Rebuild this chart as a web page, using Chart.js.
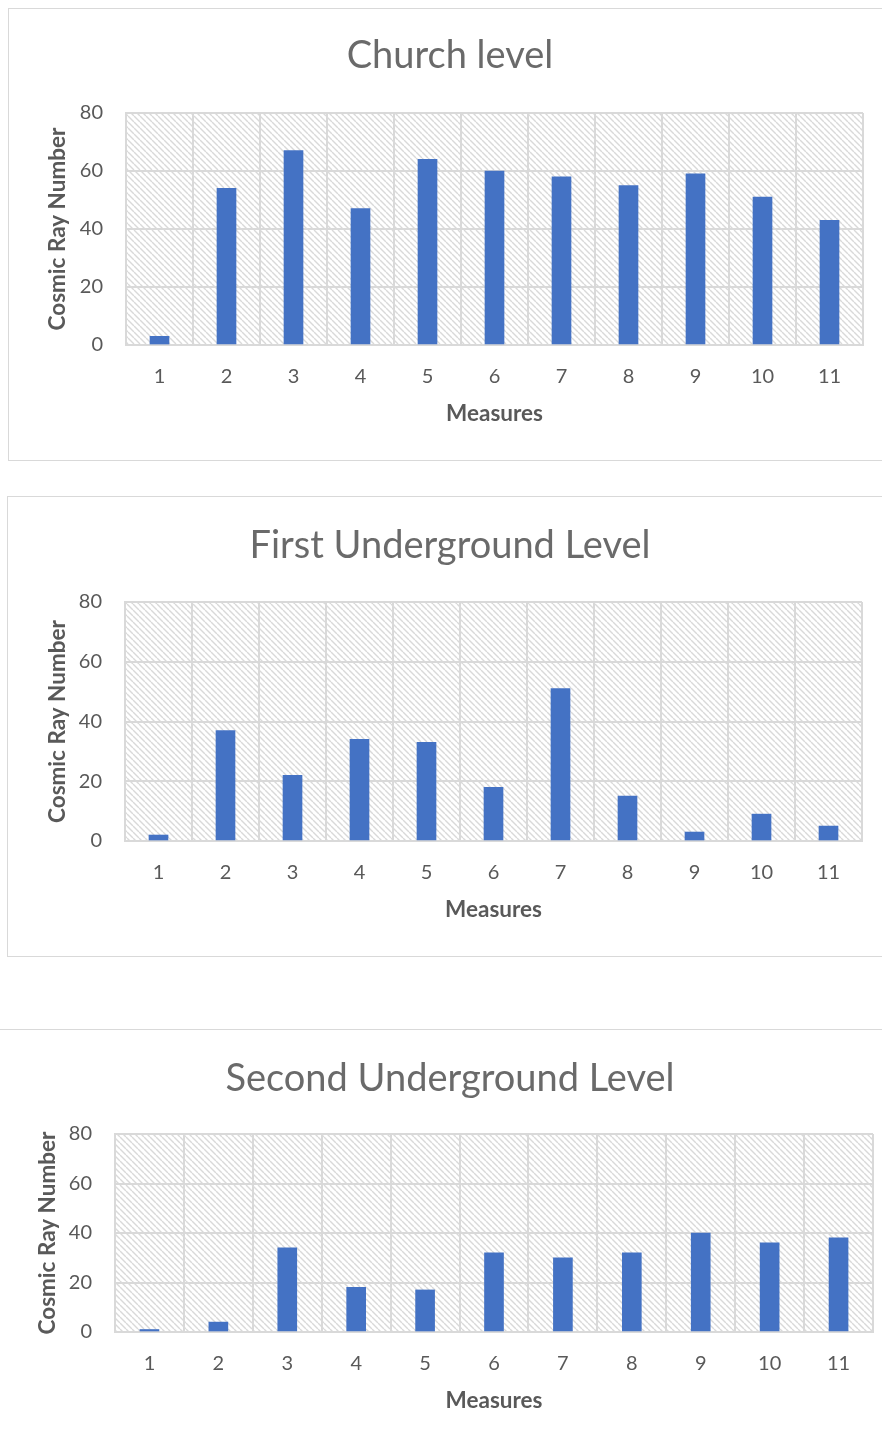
<!DOCTYPE html>
<html>
<head>
<meta charset="utf-8">
<script src="https://cdn.jsdelivr.net/npm/chart.js@4.4.0/dist/chart.umd.min.js"></script>
<style>
  html, body { margin: 0; padding: 0; background: #fff; width: 882px; height: 1441px; overflow: hidden; }
  .box { position: absolute; border: 1.5px solid #d9d9d9; box-sizing: border-box; }
  canvas { position: absolute; }
</style>
</head>
<body>
<div class="box" style="left:8px;top:8px;width:920px;height:453px;"></div>
<div class="box" style="left:7px;top:496px;width:920px;height:461px;"></div>
<div class="box" style="left:-10px;top:1029px;width:920px;height:500px;"></div>
<canvas id="c1" width="884" height="452" style="left:8px;top:8px;"></canvas>
<canvas id="c2" width="886" height="460" style="left:7px;top:496px;"></canvas>
<canvas id="c3" width="900" height="412" style="left:0px;top:1029px;"></canvas>
<script>
// ---- data ----
const categories = ['1', '2', '3', '4', '5', '6', '7', '8', '9', '10', '11'];
const churchLevel = [3, 54, 67, 47, 64, 60, 58, 55, 59, 51, 43];
const firstUnderground = [2, 37, 22, 34, 33, 18, 51, 15, 3, 9, 5];
const secondUnderground = [1, 4, 34, 18, 17, 32, 30, 32, 40, 36, 38];
const yTickValues = [0, 20, 40, 60, 80];
const chartTitles = ['Church level', 'First Underground Level', 'Second Underground Level'];
const xAxisTitle = 'Measures';
const yAxisTitle = 'Cosmic Ray Number';

// ---- styles ----
const FONT = 'Lato, "Open Sans", sans-serif';
const TEXT = '#595959';
const TITLE_COLOR = '#6a6a6a';
const GRID = '#d9d9d9';
const BAR = '#4472C4';
const TITLE_SIZE = 38, TICK_SIZE = 20, AXIS_SIZE = 22.5, LH = 1.2;

function makePattern() {
  const s = 6;
  const c = document.createElement('canvas');
  c.width = s; c.height = s;
  const g = c.getContext('2d');
  g.fillStyle = '#ffffff';
  g.fillRect(0, 0, s, s);
  g.strokeStyle = '#d9d9d9';
  g.lineWidth = 1.4;
  for (const k of [-s, 0, s]) {
    g.beginPath();
    g.moveTo(k, 0);
    g.lineTo(k + s, s);
    g.stroke();
  }
  return g.createPattern(c, 'repeat');
}

const hatchPlugin = {
  id: 'hatch',
  beforeDraw(chart) {
    const a = chart.chartArea;
    const ctx = chart.ctx;
    ctx.save();
    ctx.fillStyle = makePattern();
    ctx.fillRect(a.left, a.top, a.right - a.left, a.bottom - a.top);
    ctx.restore();
  }
};

function makeChart(id, title, values, L) {
  const lhTitle = TITLE_SIZE * LH, lhTick = TICK_SIZE * LH, lhAxis = AXIS_SIZE * LH;
  const side = L.W - L.plotRight;
  const titlePadTop = L.titleMid - lhTitle / 2;
  const titlePadBottom = L.plotTop - titlePadTop - lhTitle;
  new Chart(document.getElementById(id), {
    type: 'bar',
    data: {
      labels: categories,
      datasets: [{ data: values, backgroundColor: BAR, borderWidth: 0, barThickness: 19 }]
    },
    plugins: [hatchPlugin],
    options: {
      responsive: false,
      animation: false,
      devicePixelRatio: 1,
      layout: { padding: { left: side, right: side, top: 0, bottom: 0 } },
      plugins: {
        legend: { display: false },
        tooltip: { enabled: false },
        title: {
          display: true, text: title, color: TITLE_COLOR,
          font: { family: FONT, size: TITLE_SIZE, weight: 'normal', lineHeight: LH },
          padding: { top: titlePadTop, bottom: titlePadBottom }
        }
      },
      scales: {
        x: {
          type: 'category',
          offset: true,
          grid: { display: true, offset: true, color: GRID, lineWidth: 2, drawTicks: false },
          border: { display: true, color: GRID, width: 2 },
          ticks: {
            color: TEXT, font: { family: FONT, size: TICK_SIZE, lineHeight: LH },
            padding: L.xTickY - L.plotBottom - lhTick / 2, maxRotation: 0, autoSkip: false
          },
          title: {
            display: true, text: xAxisTitle, color: TEXT,
            font: { family: FONT, size: AXIS_SIZE, weight: 'bold', lineHeight: LH },
            padding: { top: 0, bottom: L.H - L.xTitleY - lhAxis / 2 }
          },
          afterFit(scale) { scale.height = L.H - L.plotBottom; }
        },
        y: {
          min: yTickValues[0],
          max: yTickValues[yTickValues.length - 1],
          afterBuildTicks(scale) { scale.ticks = yTickValues.map(v => ({ value: v })); },
          grid: { color: GRID, lineWidth: 2, drawTicks: false },
          border: { display: true, color: GRID, width: 2 },
          ticks: {
            color: TEXT, font: { family: FONT, size: TICK_SIZE, lineHeight: LH },
            padding: 23
          },
          title: {
            display: true, text: yAxisTitle, color: TEXT,
            font: { family: FONT, size: AXIS_SIZE, weight: 'bold', lineHeight: LH },
            padding: { top: L.yTitleX - side - lhAxis / 2, bottom: 0 }
          },
          afterFit(scale) { scale.width = L.plotLeft - side; }
        }
      }
    }
  });
}

makeChart('c1', chartTitles[0], churchLevel,
  { W: 884, H: 452, plotLeft: 118, plotRight: 855, plotTop: 105, plotBottom: 337, yTitleX: 50, titleMid: 48, xTickY: 369, xTitleY: 406 });
makeChart('c2', chartTitles[1], firstUnderground,
  { W: 886, H: 460, plotLeft: 118, plotRight: 855, plotTop: 106, plotBottom: 345, yTitleX: 51, titleMid: 50, xTickY: 377, xTitleY: 414 });
makeChart('c3', chartTitles[2], secondUnderground,
  { W: 900, H: 412, plotLeft: 115, plotRight: 873, plotTop: 105, plotBottom: 303, yTitleX: 48, titleMid: 50, xTickY: 335, xTitleY: 372 });
</script>
</body>
</html>
